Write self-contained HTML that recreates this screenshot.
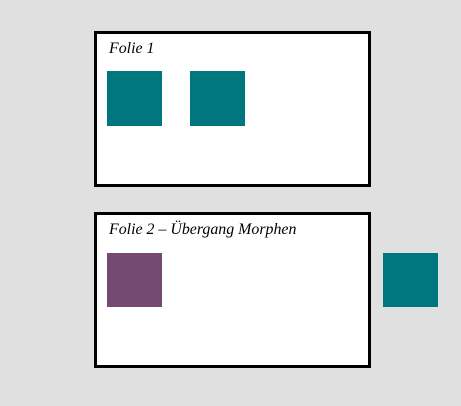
<!DOCTYPE html>
<html><head><meta charset="utf-8"><style>
body{margin:0;width:461px;height:406px;background:#e0e0e0;position:relative;overflow:hidden;font-family:"Liberation Serif",serif}
.slide{position:absolute;left:94px;width:271px;height:150px;border:3px solid #000;background:#fff}
.t{position:absolute;left:12px;top:6px;font-style:italic;font-size:15.9px;color:#000;white-space:nowrap}
.sq{position:absolute;width:55px;height:55px}
.teal{background:#00777e}.purple{background:#754a72}
</style></head><body>
<div class="slide" style="top:31px">
<div class="t">Folie 1</div>
</div>
<div class="slide" style="top:212px">
<div class="t">Folie 2 – Übergang Morphen</div>
</div>
<div class="sq teal" style="left:107px;top:71px"></div>
<div class="sq teal" style="left:190px;top:71px"></div>
<div class="sq purple" style="left:107px;top:253px;height:54px"></div>
<div class="sq teal" style="left:383px;top:253px;height:54px"></div>
</body></html>
